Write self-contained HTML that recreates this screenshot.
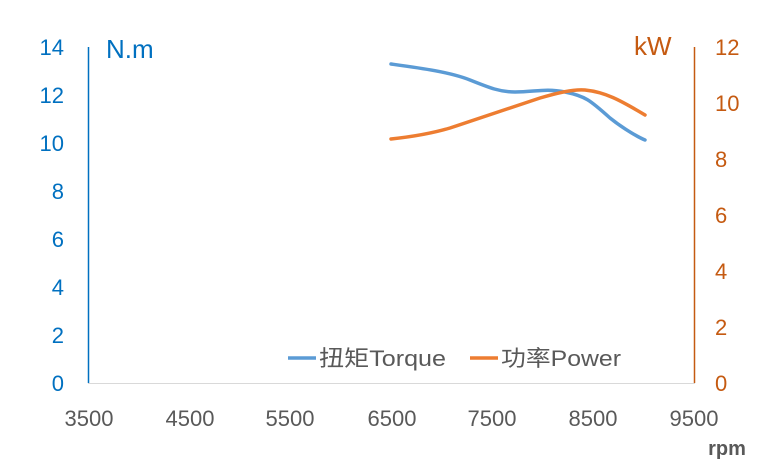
<!DOCTYPE html>
<html><head><style>body{margin:0;background:#fff}svg{display:block}</style></head><body>
<svg width="760" height="464" xmlns="http://www.w3.org/2000/svg" font-family="Liberation Sans, Noto Sans CJK SC, sans-serif">
<rect width="760" height="464" fill="#fff"/>
<line x1="88.5" y1="47" x2="88.5" y2="383" stroke="#0070C0" stroke-width="1.5"/>
<line x1="694.5" y1="47" x2="694.5" y2="383" stroke="#C55A11" stroke-width="1.5"/>
<line x1="88" y1="383.5" x2="695" y2="383.5" stroke="#D9D9D9" stroke-width="1"/>
<g fill="#0070C0" font-size="22" text-anchor="end">
<text x="64" y="55">14</text><text x="64" y="103">12</text><text x="64" y="151">10</text>
<text x="64" y="199">8</text><text x="64" y="247">6</text><text x="64" y="295">4</text>
<text x="64" y="343">2</text><text x="64" y="391">0</text>
</g>
<text x="106" y="58" fill="#0070C0" font-size="26">N.m</text>
<g fill="#C55A11" font-size="22" text-anchor="start">
<text x="715" y="55">12</text><text x="715" y="111">10</text><text x="715" y="167">8</text>
<text x="715" y="223">6</text><text x="715" y="279">4</text><text x="715" y="335">2</text>
<text x="715" y="391">0</text>
</g>
<text x="634" y="55" fill="#C55A11" font-size="26">kW</text>
<g fill="#595959" font-size="22" text-anchor="middle">
<text x="89" y="426">3500</text><text x="190" y="426">4500</text><text x="290" y="426">5500</text>
<text x="392" y="426">6500</text><text x="492" y="426">7500</text><text x="593" y="426">8500</text>
<text x="694" y="426">9500</text>
</g>
<text x="727" y="455" fill="#595959" font-size="20" font-weight="bold" text-anchor="middle">rpm</text>
<path d="M391,64 C420,68 450,72 470,80 C490,88 500,92 515,92 C535,92 545,88 565,92 C585,96 590,100 610,118 C625,130 640,138 645,140" fill="none" stroke="#5B9BD5" stroke-width="3.5" stroke-linecap="round"/>
<path d="M391,139 C410,137 430,134 450,128 C480,118 510,108 540,98 C560,92 575,89 585,90 C605,92 620,100 645,115" fill="none" stroke="#ED7D31" stroke-width="3.5" stroke-linecap="round"/>
<line x1="288" y1="358" x2="316" y2="358" stroke="#5B9BD5" stroke-width="3.5"/>
<text x="319" y="366" fill="#595959" font-size="22" textLength="127" lengthAdjust="spacingAndGlyphs">扭矩Torque</text>
<line x1="470" y1="358" x2="498" y2="358" stroke="#ED7D31" stroke-width="3.5"/>
<text x="501" y="366" fill="#595959" font-size="22" textLength="120" lengthAdjust="spacingAndGlyphs">功率Power</text>
</svg>
</body></html>
